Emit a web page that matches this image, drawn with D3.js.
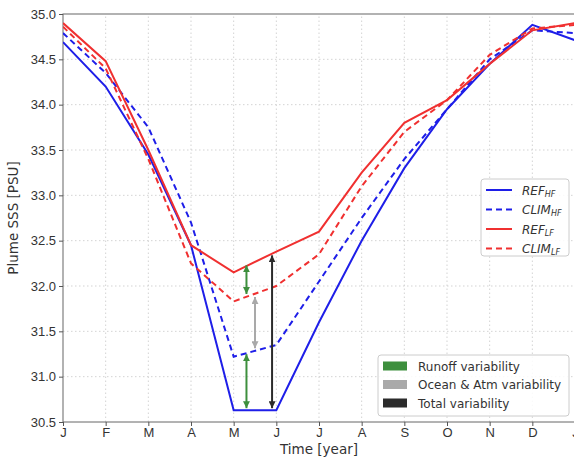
<!DOCTYPE html>
<html lang="en">
<head>
  <meta charset="UTF-8">
  <title>Plume SSS</title>
  <script src="https://d3js.org/d3.v7.min.js"></script>
  <style>
    body { margin: 0; padding: 0; background: #fff; }
    svg { display: block; font-family: "DejaVu Sans", sans-serif; }
    .grid line { stroke: #c8c8c8; stroke-width: 0.8px; stroke-dasharray: 1.5,2.5; }
    .axis text { fill: #333; font-size: 13px; }
    .axis line, .axis path { stroke: #555; }
    .series { fill: none; stroke-width: 2px; }
  </style>
</head>
<body>
  <svg id="chart"></svg>

  <script>
    const months = ['J', 'F', 'M', 'A', 'M', 'J', 'J', 'A', 'S', 'O', 'N', 'D', 'J'];
    const yTicks = [30.5, 31.0, 31.5, 32.0, 32.5, 33.0, 33.5, 34.0, 34.5, 35.0];

    const refHF  = [34.69, 34.2, 33.45, 32.45, 30.63, 30.63, 31.6, 32.5, 33.3, 33.95, 34.45, 34.88, 34.71];
    const climHF = [34.79, 34.35, 33.75, 32.7, 31.22, 31.35, 32.05, 32.75, 33.4, 33.95, 34.5, 34.82, 34.79];
    const refLF  = [34.9, 34.48, 33.5, 32.45, 32.15, 32.38, 32.6, 33.25, 33.8, 34.05, 34.45, 34.82, 34.9];
    const climLF = [34.86, 34.4, 33.4, 32.25, 31.83, 32.0, 32.35, 33.1, 33.7, 34.05, 34.55, 34.84, 34.88];

    // variability arrows: month position, top and bottom value
    const arrowX   = [4.3, 4.5, 4.3, 4.9];
    const arrowTop = [32.25, 31.9, 31.27, 32.36];
    const arrowBot = [31.89, 31.29, 30.63, 30.63];
    const arrowKind = ['runoff', 'ocean', 'runoff', 'total'];

    const series = [
      { key: 'REF', sub: 'HF', values: refHF, color: '#1e1ee8', dash: null },
      { key: 'CLIM', sub: 'HF', values: climHF, color: '#1e1ee8', dash: '6,4' },
      { key: 'REF', sub: 'LF', values: refLF, color: '#f03030', dash: null },
      { key: 'CLIM', sub: 'LF', values: climLF, color: '#f03030', dash: '6,4' }
    ];

    const kinds = [
      { id: 'runoff', label: 'Runoff variability', color: '#3d8f3d' },
      { id: 'ocean', label: 'Ocean & Atm variability', color: '#a9a9a9' },
      { id: 'total', label: 'Total variability', color: '#2b2b2b' }
    ];

    const width = 574, height = 457;
    const margin = { top: 14, right: -1, bottom: 35, left: 63 };
    const svg = d3.select('#chart').attr('width', width).attr('height', height);

    const x = d3.scaleLinear().domain([0, 12]).range([margin.left, width - margin.right]);
    const y = d3.scaleLinear().domain([30.5, 35.0]).range([height - margin.bottom, margin.top]);

    svg.append('defs').append('clipPath').attr('id', 'plot-clip')
      .append('rect')
      .attr('x', margin.left).attr('y', margin.top)
      .attr('width', x(12) - margin.left).attr('height', y(30.5) - margin.top);

    // grid
    const grid = svg.append('g').attr('class', 'grid');
    grid.selectAll('.gx').data(d3.range(1, 12)).enter().append('line')
      .attr('x1', d => x(d)).attr('x2', d => x(d))
      .attr('y1', y(30.5)).attr('y2', y(35.0));
    grid.selectAll('.gy').data(yTicks.slice(1, -1)).enter().append('line')
      .attr('x1', x(0)).attr('x2', x(12))
      .attr('y1', d => y(d)).attr('y2', d => y(d));

    // frame
    svg.append('rect')
      .attr('x', x(0)).attr('y', y(35.0))
      .attr('width', x(12) - x(0)).attr('height', y(30.5) - y(35.0))
      .attr('fill', 'none').attr('stroke', '#666').attr('stroke-width', 1);

    // axes
    const xAxis = d3.axisBottom(x).tickValues(d3.range(0, 13)).tickFormat(i => months[i])
      .tickSizeOuter(0).tickSizeInner(4).tickPadding(2);
    svg.append('g').attr('class', 'axis')
      .attr('transform', `translate(0,${y(30.5)})`)
      .call(xAxis)
      .call(g => g.select('.domain').remove());

    const yAxis = d3.axisLeft(y).tickValues(yTicks).tickFormat(d3.format('.1f'))
      .tickSizeOuter(0).tickSizeInner(4).tickPadding(3);
    svg.append('g').attr('class', 'axis')
      .attr('transform', `translate(${x(0)},0)`)
      .call(yAxis)
      .call(g => g.select('.domain').remove());

    svg.append('text')
      .attr('x', (x(0) + x(12)) / 2).attr('y', 454)
      .attr('text-anchor', 'middle').attr('fill', '#333').attr('font-size', 13.5)
      .text('Time [year]');

    svg.append('text')
      .attr('transform', `translate(18,${(y(30.5) + y(35.0)) / 2}) rotate(-90)`)
      .attr('text-anchor', 'middle').attr('fill', '#333').attr('font-size', 13.5)
      .text('Plume SSS [PSU]');

    // lines
    const line = d3.line().x((d, i) => x(i)).y(d => y(d));
    const plot = svg.append('g').attr('clip-path', 'url(#plot-clip)');
    plot.selectAll('.series').data(series).enter().append('path')
      .attr('class', 'series')
      .attr('d', d => line(d.values))
      .attr('stroke', d => d.color)
      .attr('stroke-dasharray', d => d.dash);

    // arrow markers
    const defs = svg.select('defs');
    kinds.forEach(k => {
      ['end', 'start'].forEach(side => {
        defs.append('marker')
          .attr('id', `head-${k.id}-${side}`)
          .attr('viewBox', '0 0 10 10')
          .attr('refX', 10).attr('refY', 5)
          .attr('markerUnits', 'userSpaceOnUse')
          .attr('markerWidth', 7).attr('markerHeight', 7)
          .attr('orient', side === 'end' ? 'auto' : 'auto-start-reverse')
          .append('path').attr('d', 'M0,0 L10,5 L0,10 z').attr('fill', k.color);
      });
    });

    const kindOf = id => kinds.find(k => k.id === id);
    arrowX.forEach((ax, i) => {
      const k = kindOf(arrowKind[i]);
      svg.append('line')
        .attr('x1', x(ax)).attr('x2', x(ax))
        .attr('y1', y(arrowTop[i]) + 2).attr('y2', y(arrowBot[i]) - 2)
        .attr('stroke', k.color).attr('stroke-width', 2)
        .attr('marker-start', `url(#head-${k.id}-start)`)
        .attr('marker-end', `url(#head-${k.id}-end)`);
    });

    // legend for lines
    const lg = svg.append('g').attr('transform', 'translate(481,179)');
    lg.append('rect').attr('width', 88).attr('height', 77).attr('rx', 3)
      .attr('fill', 'rgba(255,255,255,0.85)').attr('stroke', '#ccc');
    series.forEach((s, i) => {
      const row = lg.append('g').attr('transform', `translate(0,${11 + i * 19.5})`);
      row.append('line').attr('x1', 5).attr('x2', 31).attr('y1', 0).attr('y2', 0)
        .attr('stroke', s.color).attr('stroke-width', 2).attr('stroke-dasharray', s.dash);
      const t = row.append('text').attr('x', 41).attr('y', 4.5)
        .attr('font-size', 12).attr('font-style', 'italic').attr('fill', '#333');
      t.append('tspan').text(s.key);
      t.append('tspan').attr('font-size', 8).attr('dy', 2).text(s.sub);
    });

    // legend for variability
    const lv = svg.append('g').attr('transform', 'translate(378,355)');
    lv.append('rect').attr('width', 191).attr('height', 61).attr('rx', 3)
      .attr('fill', 'rgba(255,255,255,0.85)').attr('stroke', '#ccc');
    kinds.forEach((k, i) => {
      const row = lv.append('g').attr('transform', `translate(0,${11 + i * 18.5})`);
      row.append('rect').attr('x', 5).attr('y', -4.5).attr('width', 24).attr('height', 9)
        .attr('fill', k.color);
      row.append('text').attr('x', 40).attr('y', 4.5)
        .attr('font-size', 12).attr('fill', '#333').text(k.label);
    });
  </script>
</body>
</html>
